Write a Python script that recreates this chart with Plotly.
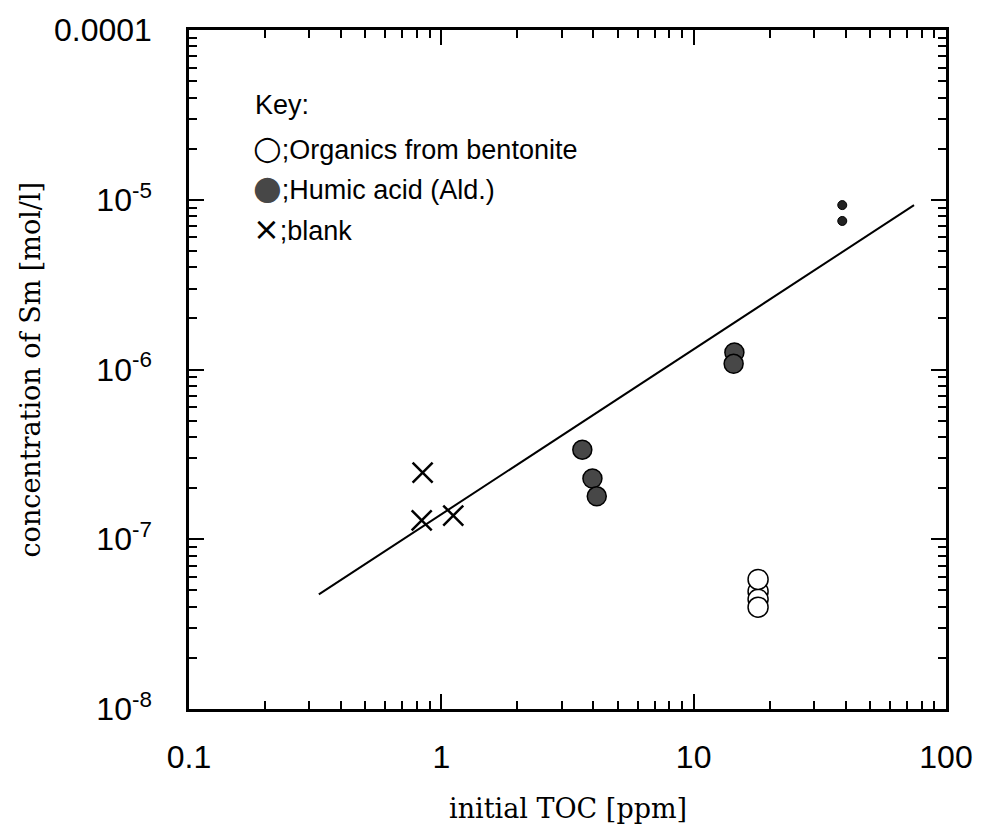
import plotly.graph_objects as go

# ---- data ----
blank_toc = [0.843, 0.836, 1.115]
blank_sm = [2.47e-7, 1.29e-7, 1.38e-7]

humic_toc = [3.62, 3.97, 4.13, 14.5, 14.4]
humic_sm = [3.37e-7, 2.28e-7, 1.79e-7, 1.26e-6, 1.08e-6]

humic2_toc = [38.8, 38.8]
humic2_sm = [9.3e-6, 7.5e-6]

bent_toc = [18.0, 18.0, 18.0, 18.0]
bent_sm = [4.93e-8, 4.43e-8, 5.8e-8, 3.98e-8]

fit_toc = [0.327, 74.7]
fit_sm = [4.73e-8, 9.3e-6]

x_tickvals = [0.1, 1, 10, 100]
x_ticktext = ["0.1", "1", "10", "100"]
y_tickvals = [1e-8, 1e-7, 1e-6, 1e-5, 1e-4]
y_ticktext = ["10<sup>-8</sup>", "10<sup>-7</sup>", "10<sup>-6</sup>", "10<sup>-5</sup>", "0.0001"]

x_minor = [m * 10 ** d for d in (-1, 0, 1) for m in range(2, 10)]
y_minor = [m * 10 ** d for d in (-8, -7, -6, -5) for m in range(2, 10)]

fig = go.Figure()

fig.add_trace(go.Scatter(x=fit_toc, y=fit_sm, mode="lines",
                         line=dict(color="black", width=2), showlegend=False))
fig.add_trace(go.Scatter(x=blank_toc, y=blank_sm, mode="markers",
                         marker=dict(symbol="x-thin", size=20,
                                     line=dict(color="black", width=2.5)),
                         showlegend=False))
fig.add_trace(go.Scatter(x=humic_toc, y=humic_sm, mode="markers",
                         marker=dict(symbol="circle", size=19, color="#474747",
                                     line=dict(color="black", width=1.5)),
                         showlegend=False))
fig.add_trace(go.Scatter(x=humic2_toc, y=humic2_sm, mode="markers",
                         marker=dict(symbol="circle", size=9, color="#222222",
                                     line=dict(color="black", width=1)),
                         showlegend=False))
fig.add_trace(go.Scatter(x=bent_toc, y=bent_sm, mode="markers",
                         marker=dict(symbol="circle", size=20, color="white",
                                     line=dict(color="black", width=1.5)),
                         showlegend=False))

tick_font = dict(family="Liberation Sans, Arial, sans-serif", size=32, color="black")

fig.update_xaxes(type="log", range=[-1, 2], showgrid=False, zeroline=False,
                 showline=True, linecolor="black", linewidth=2.5, mirror="allticks",
                 ticks="inside", ticklen=15, tickwidth=2, tickcolor="black",
                 tickmode="array", tickvals=x_tickvals, ticktext=x_ticktext,
                 tickfont=tick_font, ticklabelstandoff=18,
                 minor=dict(ticks="inside", ticklen=8, tickwidth=2, tickcolor="black",
                            tickmode="array", tickvals=x_minor, showgrid=False))
fig.update_yaxes(type="log", range=[-8, -4], showgrid=False, zeroline=False,
                 showline=True, linecolor="black", linewidth=2.5, mirror="allticks",
                 ticks="inside", ticklen=15, tickwidth=2, tickcolor="black",
                 tickmode="array", tickvals=y_tickvals, ticktext=y_ticktext,
                 tickfont=tick_font, ticklabelstandoff=28,
                 minor=dict(ticks="inside", ticklen=8, tickwidth=2, tickcolor="black",
                            tickmode="array", tickvals=y_minor, showgrid=False))

serif = dict(family="DejaVu Serif, serif", size=27, color="black")
key_font = dict(family="Liberation Sans, Arial, sans-serif", size=27, color="black")

glyph = "<span style='font-family:DejaVu Sans;font-size:33px;%s'>%s</span>"

annotations = [
    dict(text="initial TOC [ppm]", xref="paper", yref="paper", x=0.5, y=0,
         xanchor="center", yanchor="middle", yshift=-99, showarrow=False, font=serif),
    dict(text="concentration of Sm [mol/l]", xref="paper", yref="paper", x=0, y=0.5,
         xanchor="center", yanchor="middle", xshift=-159, textangle=-90,
         showarrow=False, font=serif),
    dict(text="Key:", xref="paper", yref="paper", x=0.084, y=0.889,
         xanchor="left", yanchor="middle", showarrow=False, font=key_font),
    dict(text=(glyph % ("", "○")) + ";Organics from bentonite", xref="paper", yref="paper",
         x=0.082, y=0.827, xanchor="left", yanchor="middle", showarrow=False, font=key_font),
    dict(text=(glyph % ("color:#474747", "●")) + ";Humic acid (Ald.)", xref="paper",
         yref="paper", x=0.082, y=0.768,
         xanchor="left", yanchor="middle", showarrow=False, font=key_font),
    dict(text="<span style='font-family:DejaVu Sans;font-size:32px'>×</span>;blank",
         xref="paper", yref="paper", x=0.082, y=0.707,
         xanchor="left", yanchor="middle", showarrow=False, font=key_font),
]

fig.update_layout(width=986, height=827, margin=dict(l=189, r=40, t=22, b=118),
                  paper_bgcolor="white", plot_bgcolor="white",
                  annotations=annotations, showlegend=False)

fig.write_html("out.html")
